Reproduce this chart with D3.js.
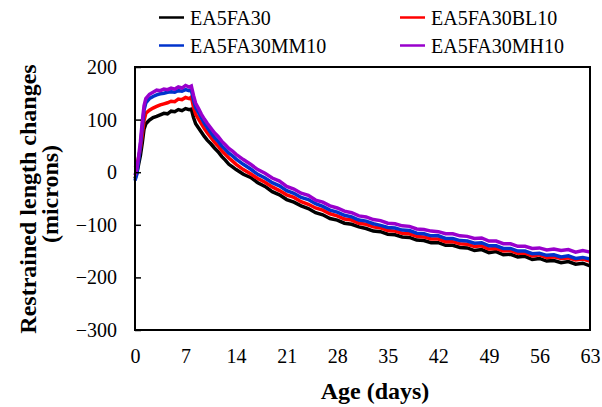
<!DOCTYPE html>
<html>
<head>
<meta charset="utf-8">
<script src="https://cdn.jsdelivr.net/npm/d3@7"></script>
<style>
  html, body { margin: 0; padding: 0; background: #fff; }
  svg { display: block; }
</style>
</head>
<body>
<svg id="chart" width="602" height="407"></svg>
<script>
// ---------- data ----------
const days = [0,0.25,0.5,0.75,1,1.25,1.5,2,2.5,3,3.5,4,4.5,5,5.5,6,6.5,7,7.5,7.8,8.1,8.4,8.8,9.2,9.6,10,10.5,11,11.5,12,12.5,13,13.5,14,
  15,16,17,18,19,20,21,22,23,24,25,26,27,28,29,30,31,32,33,34,35,36,37,38,39,40,41,42,43,44,45,46,47,48,49,50,51,52,53,54,55,56,57,58,59,60,61,62,63];

const EA5FA30 = [-12,-2,15,32,55,82,92,99,104,106,109,112,111,116,115,119,117,121,119,120,104,92,84,76,68,61,54,46,39,30,23,15,10,5,
  -4,-10,-20,-27,-37,-43,-52,-57,-64,-69,-77,-81,-88,-91,-97,-99,-104,-107,-112,-113,-118,-119,-123,-124,-129,-130,-134,-134,-139,-139,-143,-144,-149,-147,-153,-151,-157,-156,-161,-160,-166,-164,-169,-168,-172,-170,-175,-173,-178];

const EA5FA30BL10 = [8,12,28,45,70,98,112,118,122,125,128,130,132,135,134,139,138,142,140,143,124,110,101,92,83,75,66,57,50,41,34,27,21,15,
  5,-3,-12,-19,-28,-35,-43,-48,-56,-61,-68,-72,-79,-83,-89,-91,-97,-99,-104,-106,-111,-112,-116,-117,-122,-123,-127,-127,-132,-132,-136,-137,-141,-140,-146,-145,-150,-149,-154,-154,-159,-157,-162,-161,-164,-163,-167,-165,-169];

const EA5FA30MM10 = [-16,-4,22,50,85,118,132,140,144,147,149,150,152,153,152,155,154,157,155,156,137,123,113,103,93,85,75,66,59,50,43,36,31,25,
  15,6,-4,-11,-20,-26,-35,-40,-48,-52,-60,-65,-72,-76,-82,-85,-91,-93,-98,-101,-105,-106,-110,-111,-116,-117,-121,-121,-126,-126,-130,-131,-135,-134,-140,-140,-145,-145,-150,-150,-155,-154,-158,-157,-161,-159,-164,-162,-165];

const EA5FA30MH10 = [-6,6,30,58,95,126,140,148,152,156,155,158,157,160,158,162,160,165,162,164,146,131,121,110,101,93,84,75,68,59,52,45,40,34,
  24,15,5,-2,-11,-17,-27,-32,-40,-44,-53,-57,-64,-68,-74,-77,-83,-85,-90,-92,-97,-98,-102,-103,-108,-109,-112,-113,-117,-117,-121,-122,-126,-125,-131,-131,-136,-136,-141,-141,-145,-144,-148,-146,-149,-147,-152,-149,-152];

const seriesNames = ["EA5FA30", "EA5FA30BL10", "EA5FA30MM10", "EA5FA30MH10"];
const seriesValues = [EA5FA30, EA5FA30BL10, EA5FA30MM10, EA5FA30MH10];
const seriesColors = ["#000000", "#ff0000", "#0033cc", "#9900cc"];
const xTicks = [0,7,14,21,28,35,42,49,56,63];
const yTicks = [-300,-200,-100,0,100,200];

// ---------- chart ----------
const FONT = "'Liberation Serif', 'Times New Roman', serif";
const svg = d3.select("#chart");
const L = 135, R = 590, T = 67, B = 330;
const x = d3.scaleLinear().domain([0, 63]).range([L, R]);
const y = d3.scaleLinear().domain([-300, 200]).range([B, T]);

// lines
const line = d3.line().x((d, i) => x(days[i])).y(d => y(d));
seriesValues.forEach((vals, k) => {
  svg.append("path")
    .datum(vals)
    .attr("fill", "none")
    .attr("stroke", seriesColors[k])
    .attr("stroke-width", 3.5)
    .attr("stroke-linejoin", "miter")
    .attr("d", line);
});

// frame
svg.append("rect")
  .attr("x", L).attr("y", T)
  .attr("width", R - L).attr("height", B - T)
  .attr("fill", "none").attr("stroke", "#000").attr("stroke-width", 2);

// y axis
const yAxis = d3.axisLeft(y).tickValues(yTicks).tickSizeInner(-6).tickSizeOuter(0).tickPadding(18);
const gy = svg.append("g").attr("transform", `translate(${L},0)`).call(yAxis);
gy.attr("font-family", null).attr("font-size", null);
gy.select(".domain").remove();
gy.selectAll(".tick line").attr("stroke", "#000").attr("stroke-width", 1.5);
gy.selectAll(".tick text").style("font-family", FONT).style("font-size", "20px").attr("fill", "#000");

// x axis
const xAxis = d3.axisBottom(x).tickValues(xTicks).tickSize(0).tickPadding(19);
const gx = svg.append("g").attr("transform", `translate(0,${B})`).call(xAxis);
gx.attr("font-family", null).attr("font-size", null);
gx.select(".domain").remove();
gx.selectAll(".tick text").style("font-family", FONT).style("font-size", "20px").attr("fill", "#000");

// axis titles
svg.append("text")
  .attr("x", 375).attr("y", 399)
  .attr("text-anchor", "middle")
  .style("font-family", FONT)
  .style("font-size", "24px").style("font-weight", "bold")
  .text("Age (days)");

svg.append("text")
  .attr("transform", "translate(36,199) rotate(-90)")
  .attr("text-anchor", "middle")
  .style("font-family", FONT)
  .style("font-size", "24px").style("font-weight", "bold")
  .text("Restrained length changes");
svg.append("text")
  .attr("transform", "translate(58,194) rotate(-90)")
  .attr("text-anchor", "middle")
  .style("font-family", FONT)
  .style("font-size", "24px").style("font-weight", "bold")
  .text("(microns)");

// legend
const legendPos = [[159, 17.5], [400, 17.5], [159, 45.5], [400, 45.5]];
seriesNames.forEach((name, k) => {
  const [lx, ly] = legendPos[k];
  svg.append("line")
    .attr("x1", lx).attr("x2", lx + 25)
    .attr("y1", ly).attr("y2", ly)
    .attr("stroke", seriesColors[k]).attr("stroke-width", 2.5);
  svg.append("text")
    .attr("x", lx + 31).attr("y", ly + 7)
    .style("font-family", FONT)
    .style("font-size", "20px")
    .text(name);
});
</script>
</body>
</html>
